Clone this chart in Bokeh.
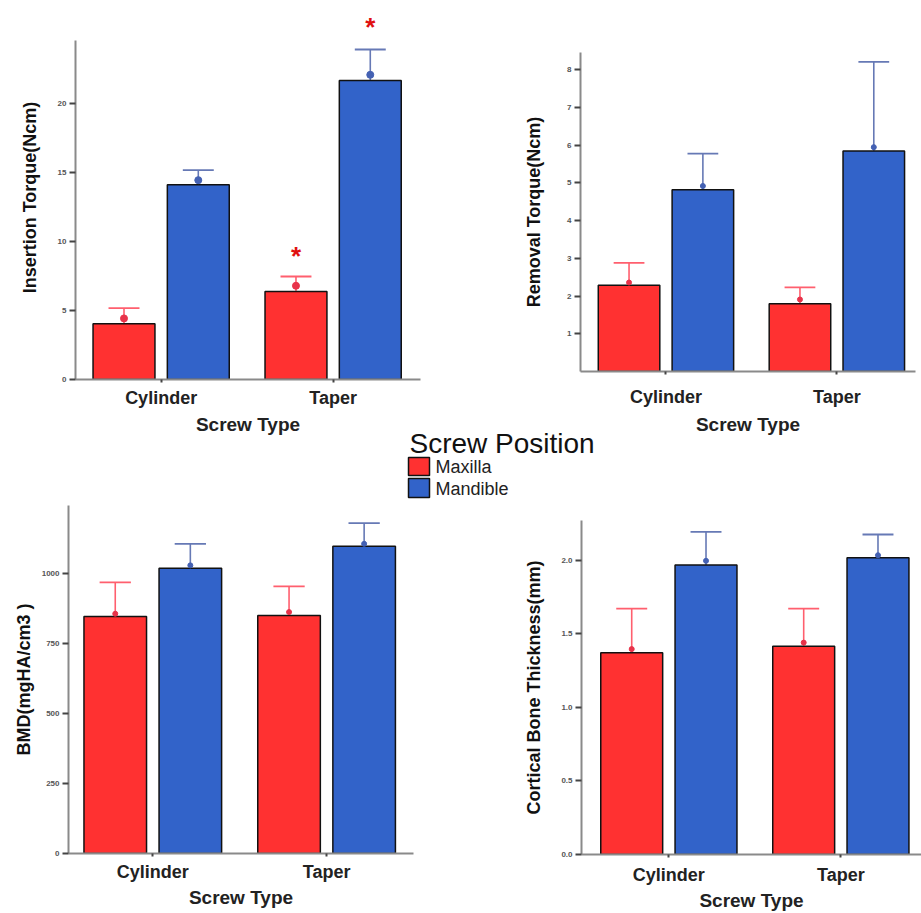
from bokeh.plotting import figure
from bokeh.layouts import column, row
from bokeh.models import Range1d, FixedTicker, NumeralTickFormatter
from bokeh.embed import file_html
from bokeh.resources import INLINE
from bokeh.core.properties import value

# ---------------- data ----------------
screw_types = ["Cylinder", "Taper"]
positions = ["Maxilla", "Mandible"]

# Insertion torque (Ncm)
ins_max = [4.04, 6.37]
ins_max_err = [5.17, 7.45]
ins_max_dot = [4.42, 6.78]
ins_man = [14.08, 21.63]
ins_man_err = [15.14, 23.87]
ins_man_dot = [14.42, 22.04]
ins_star_max = [None, 8.9]
ins_star_man = [None, 25.5]

# Removal torque (Ncm)
rem_max = [2.29, 1.80]
rem_max_err = [2.88, 2.23]
rem_max_dot = [2.36, 1.91]
rem_man = [4.82, 5.85]
rem_man_err = [5.78, 8.21]
rem_man_dot = [4.92, 5.95]

# BMD (mgHA/cm3)
bmd_max = [847, 851]
bmd_max_err = [969, 955]
bmd_max_dot = [857, 863]
bmd_man = [1020, 1098]
bmd_man_err = [1107, 1181]
bmd_man_dot = [1030, 1107]

# Cortical bone thickness (mm)
cbt_max = [1.371, 1.416]
cbt_max_err = [1.671, 1.671]
cbt_max_dot = [1.396, 1.44]
cbt_man = [1.967, 2.016]
cbt_man_err = [2.193, 2.175]
cbt_man_dot = [1.996, 2.034]

RED = "#ff3131"
BLUE = "#3263c9"
RED_ERR = "#ff5f6e"
BLUE_ERR = "#6679b5"
RED_DOT = "#e8334a"
BLUE_DOT = "#4461b3"

AX_FONT = "Liberation Sans"

GROUP_X = [1, 2]
OFF = 0.216
BAR_W = 0.36
CAP_W = 0.18


def panel(width, height, borders, xr, yr, ybounds, yticks, yfmt, ylabel,
          maxv, maxe, maxd, manv, mane, mand, dot_size,
          xl_stand, yl_stand, stars=None):
    bl, br, bt, bb = borders
    p = figure(width=width, height=height, x_range=Range1d(*xr), y_range=Range1d(*yr),
               output_backend="svg", toolbar_location=None,
               min_border_left=bl, min_border_right=br, min_border_top=bt, min_border_bottom=bb)
    p.frame_align = False
    p.outline_line_color = None
    p.xgrid.grid_line_color = None
    p.ygrid.grid_line_color = None

    for vals, errs, dots, off, col, ecol, dcol in [
        (maxv, maxe, maxd, -OFF, RED, RED_ERR, RED_DOT),
        (manv, mane, mand, OFF, BLUE, BLUE_ERR, BLUE_DOT),
    ]:
        xs = [g + off for g in GROUP_X]
        p.segment(x0=xs, y0=vals, x1=xs, y1=errs, line_color=ecol, line_width=1.6)
        p.segment(x0=[x - CAP_W / 2 for x in xs], y0=errs, x1=[x + CAP_W / 2 for x in xs], y1=errs,
                  line_color=ecol, line_width=1.8)
        p.vbar(x=xs, top=vals, bottom=0, width=BAR_W, fill_color=col,
               line_color="#111111", line_width=1.5)
        p.scatter(x=xs, y=dots, size=dot_size, fill_color=dcol, line_color=dcol)

    if stars:
        for off, ys in stars:
            sx = [g + off for g, y in zip(GROUP_X, ys) if y is not None]
            sy = [y for y in ys if y is not None]
            p.text(x=sx, y=sy, text=["*"] * len(sx), text_color="#e01010",
                   text_font=value(AX_FONT), text_font_style="bold", text_font_size="26px",
                   text_align="center", text_baseline="middle")

    xa = p.xaxis[0]
    xa.ticker = FixedTicker(ticks=GROUP_X)
    xa.major_label_overrides = {1: screw_types[0], 2: screw_types[1]}
    xa.axis_label = "Screw Type"
    xa.axis_line_color = "#8a8a8a"
    xa.axis_line_width = 2
    xa.major_tick_line_color = "#444444"
    xa.major_tick_line_width = 2
    xa.major_tick_out = 3
    xa.major_tick_in = 0
    xa.minor_tick_line_color = None
    xa.major_label_text_font = AX_FONT
    xa.major_label_text_font_style = "bold"
    xa.major_label_text_font_size = "18px"
    xa.major_label_text_color = "#222222"
    xa.major_label_standoff = xl_stand[0]
    xa.axis_label_text_font = AX_FONT
    xa.axis_label_text_font_style = "bold"
    xa.axis_label_text_font_size = "19px"
    xa.axis_label_text_color = "#222222"
    xa.axis_label_standoff = xl_stand[1]

    ya = p.yaxis[0]
    ya.ticker = FixedTicker(ticks=yticks)
    if yfmt is not None:
        ya.formatter = NumeralTickFormatter(format=yfmt)
    ya.bounds = ybounds
    ya.axis_label = ylabel
    ya.axis_line_color = "#8a8a8a"
    ya.axis_line_width = 2
    ya.major_tick_line_color = "#444444"
    ya.major_tick_line_width = 2
    ya.major_tick_out = 6
    ya.major_tick_in = 0
    ya.minor_tick_line_color = None
    ya.major_label_text_font = AX_FONT
    ya.major_label_text_font_style = "bold"
    ya.major_label_text_font_size = "8px"
    ya.major_label_text_color = "#555555"
    ya.major_label_standoff = 3
    ya.axis_label_text_font = AX_FONT
    ya.axis_label_text_font_style = "bold"
    ya.axis_label_text_font_size = "18px"
    ya.axis_label_text_color = "#111111"
    ya.axis_label_standoff = yl_stand
    return p


p1 = panel(460, 437, (75, 40, 15, 57), (0.502, 2.508), (0, 26.33), (0, 24.52),
           [0, 5, 10, 15, 20], None, "Insertion Torque(Ncm)",
           ins_max, ins_max_err, ins_max_dot, ins_man, ins_man_err, ins_man_dot, 7,
           (5, 3), 15, stars=[(-OFF, ins_star_max), (OFF, ins_star_man)])

p2 = panel(461, 437, (120, 6, 52, 65), (0.5, 2.46), (0, 8.46), (0, 8.46),
           [1, 2, 3, 4, 5, 6, 7, 8], None, "Removal Torque(Ncm)",
           rem_max, rem_max_err, rem_max_dot, rem_man, rem_man_err, rem_man_dot, 5,
           (12, 4), 20)

p3 = panel(460, 413, (68, 47, 5, 60), (0.515, 2.5), (0, 1244), (0, 1244),
           [0, 250, 500, 750, 1000], None, "BMD(mgHA/cm3 )",
           bmd_max, bmd_max_err, bmd_max_dot, bmd_man, bmd_man_err, bmd_man_dot, 5,
           (5, 2), 5)

p4 = panel(461, 413, (121, 0, 20, 55), (0.492, 2.469), (0, 2.27), (0, 2.27),
           [0, 0.5, 1.0, 1.5, 2.0], "0.0", "Cortical Bone Thickness(mm)",
           cbt_max, cbt_max_err, cbt_max_dot, cbt_man, cbt_man_err, cbt_man_dot, 5,
           (7, 2), 14)

# ---------------- legend strip (overlaps the top row by 10 px, transparent) ----------------
LEG_H = 73
leg = figure(width=921, height=LEG_H, x_range=Range1d(0, 921), y_range=Range1d(LEG_H, 0),
             output_backend="svg", toolbar_location=None, x_axis_type=None, y_axis_type=None,
             min_border=0, margin=(-10, 0, 0, 0))
leg.outline_line_color = None
leg.background_fill_color = None
leg.border_fill_color = None
leg.xgrid.grid_line_color = None
leg.ygrid.grid_line_color = None
leg.quad(left=[408, 408], right=[429, 429], top=[30, 51], bottom=[48, 70],
         fill_color=[RED, BLUE], line_color="#111111", line_width=1.5)
leg.text(x=[409], y=[15.5], text=["Screw Position"], text_font=value(AX_FONT),
         text_font_size="28px", text_color="#111111", text_baseline="middle")
leg.text(x=[435, 435], y=[39, 61], text=positions, text_font=value(AX_FONT),
         text_font_size="18px", text_color="#222222", text_baseline="middle")

layout = column(row(p1, p2), leg, row(p3, p4))

open("out.html", "w").write(file_html(layout, INLINE))
